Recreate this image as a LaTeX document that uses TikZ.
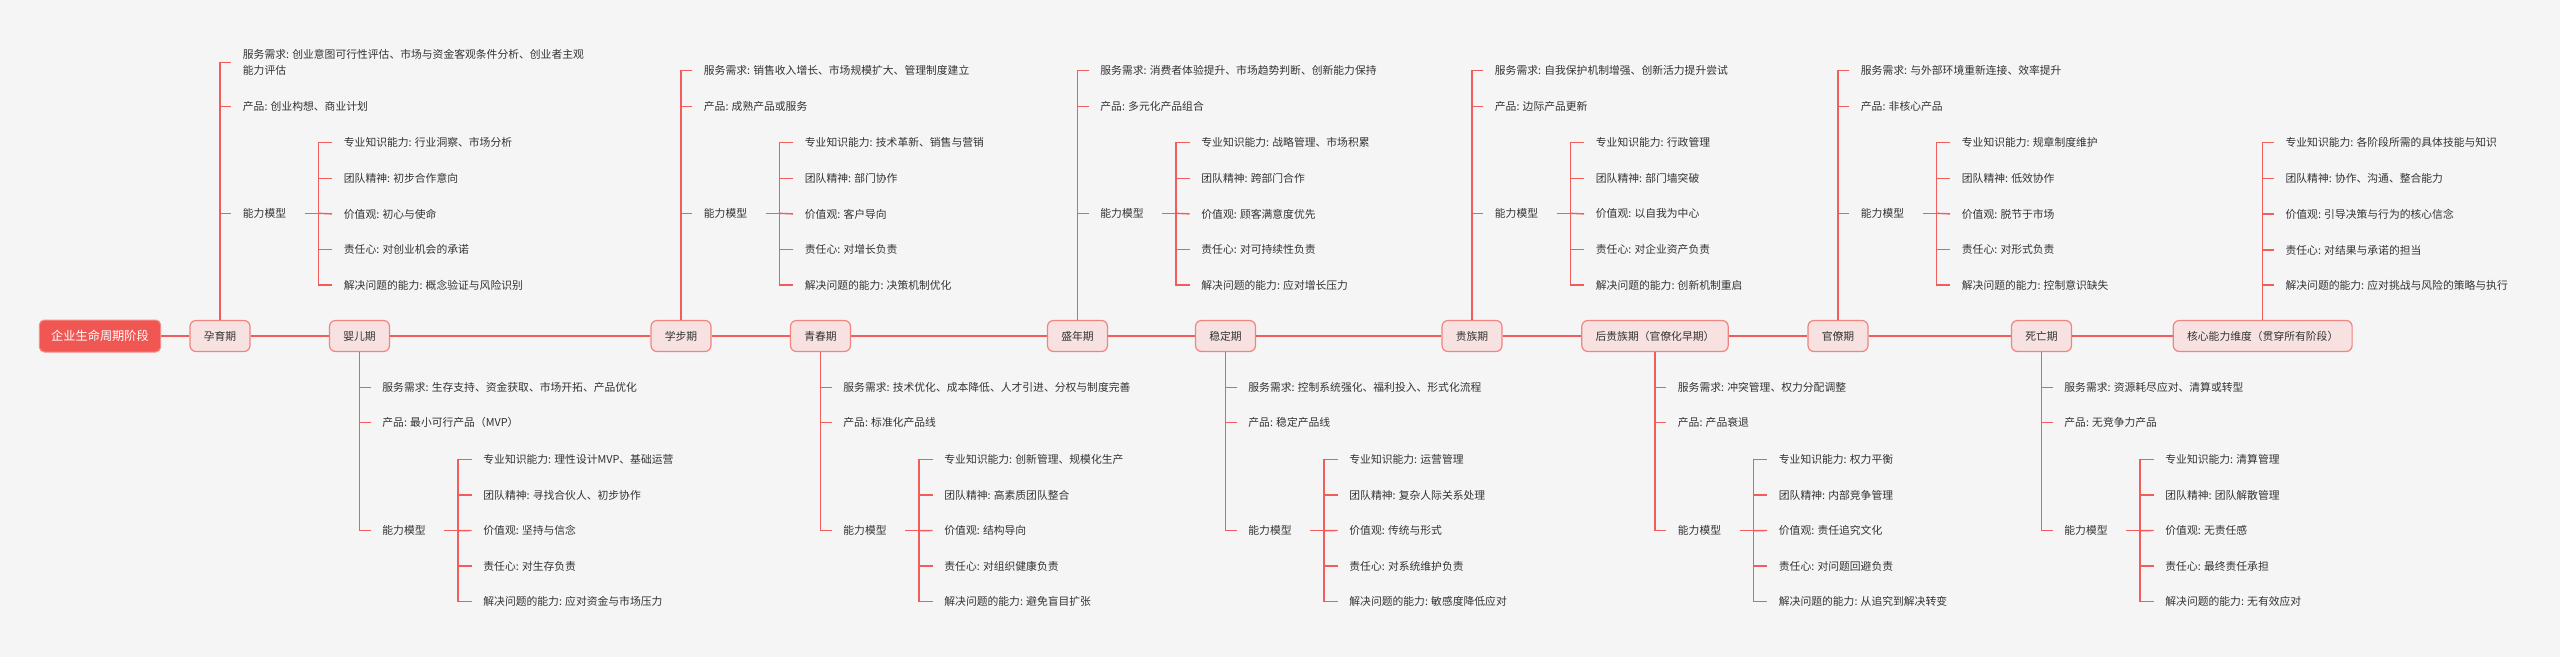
\documentclass[tikz,border=0pt]{standalone}
\usepackage{fontspec}
\setmainfont{Noto Sans CJK SC}
\definecolor{rootred}{HTML}{F05753}
\definecolor{rootedge}{HTML}{F58E8B}
\definecolor{linkred}{HTML}{F25C5A}
\definecolor{stagefill}{HTML}{F7E2E1}
\definecolor{stageborder}{HTML}{F2847F}
\definecolor{txt}{HTML}{333333}
\definecolor{bgc}{HTML}{F5F5F5}
\tikzset{
  link/.style={draw=linkred, line width=1.4pt},
  item/.style={anchor=west, inner xsep=11.7pt, inner ysep=1pt, text=txt, align=left,
    font=\fontsize{10.8}{16}\selectfont},
  rootbox/.style={rounded corners=5pt, fill=rootred, draw=rootedge, line width=1pt, text=white,
    minimum height=32pt, inner xsep=11.9pt, font=\fontsize{12.2}{14}\selectfont},
  stagebox/.style={rounded corners=6pt, fill=stagefill, draw=stageborder, line width=1.2pt,
    minimum height=31pt, inner xsep=13.8pt, text=txt, font=\fontsize{10.8}{13}\selectfont}
}
\newcommand{\branchhead}[6][]{%
  \def\bn{#2}\def\bx{#3}%
  \if#4t\def\yS{70.7}\def\yP{106.7}\def\yA{213.3}\def\yT{142.7}\def\anc{north}%
  \else\def\yS{387.3}\def\yP{422.7}\def\yA{530.7}\def\yT{459.3}\def\anc{south}\fi
  \if\relax\detokenize{#1}\relax\else\def\yS{#1}\fi
  \node[item] (#2-sv) at (\bx+11,\yS) {#5};
  \node[item] (#2-pd) at (\bx+11,\yP) {#6};
  \node[item] (#2-ab) at (\bx+11,\yA) {能力模型};
  \draw[link] (#2.\anc) |- (#2-sv.west);
  \draw[link] (#2.\anc) |- (#2-pd.west);
  \draw[link] (#2.\anc) |- (#2-ab.west);
  \coordinate (#2-h) at (\bx+84.5,\yA);
  \coordinate (#2-j) at (\bx+98.3,\yA);
  \draw[link] (#2-h) -- (#2-j);
}
\newcommand{\branchsubs}[5]{%
  \node[item] (\bn-c1) at (\bx+112,\yT) {#1};
  \node[item] (\bn-c2) at (\bx+112,\yT+35.6) {#2};
  \node[item] (\bn-c3) at (\bx+112,\yT+71.2) {#3};
  \node[item] (\bn-c4) at (\bx+112,\yT+106.8) {#4};
  \node[item] (\bn-c5) at (\bx+112,\yT+142.4) {#5};
  \draw[link] (\bn-j) |- (\bn-c1.west);
  \draw[link] (\bn-j) |- (\bn-c2.west);
  \draw[link] (\bn-j) |- (\bn-c4.west);
  \draw[link] (\bn-j) |- (\bn-c5.west);
  \draw[link] (\bn-j) -- (\bn-c3.west);
}
\begin{document}
\begin{tikzpicture}[x=1pt,y=-1pt]
\useasboundingbox (0,0) rectangle (2560,657);
\fill[bgc] (0,0) rectangle (2560,657);

% stages
\node[rootbox] (root) at (100,336) {企业生命周期阶段};
\node[stagebox] (s1) at (220,336) {孕育期};
\node[stagebox] (s2) at (359.5,336) {婴儿期};
\node[stagebox] (s3) at (681,336) {学步期};
\node[stagebox] (s4) at (820.5,336) {青春期};
\node[stagebox] (s5) at (1077.5,336) {盛年期};
\node[stagebox] (s6) at (1225.5,336) {稳定期};
\node[stagebox] (s7) at (1472,336) {贵族期};
\node[stagebox] (s8) at (1655,336) {后贵族期（官僚化早期）};
\node[stagebox] (s9) at (1838,336) {官僚期};
\node[stagebox] (s10) at (2041.5,336) {死亡期};
\node[stagebox] (s11) at (2262.7,336) {核心能力维度（贯穿所有阶段）};

\draw[link] (root) -- (s1) -- (s2) -- (s3) -- (s4) -- (s5) -- (s6) -- (s7) -- (s8) -- (s9) -- (s10) -- (s11);

% 孕育期
\branchhead[62.7]{s1}{220}{t}{服务需求: 创业意图可行性评估、市场与资金客观条件分析、创业者主观\\能力评估}{产品: 创业构想、商业计划}
\branchsubs{专业知识能力: 行业洞察、市场分析}{团队精神: 初步合作意向}{价值观: 初心与使命}{责任心: 对创业机会的承诺}{解决问题的能力: 概念验证与风险识别}

% 婴儿期
\branchhead{s2}{359.5}{b}{服务需求: 生存支持、资金获取、市场开拓、产品优化}{产品: 最小可行产品（MVP）}
\branchsubs{专业知识能力: 理性设计MVP、基础运营}{团队精神: 寻找合伙人、初步协作}{价值观: 坚持与信念}{责任心: 对生存负责}{解决问题的能力: 应对资金与市场压力}

% 学步期
\branchhead{s3}{681}{t}{服务需求: 销售收入增长、市场规模扩大、管理制度建立}{产品: 成熟产品或服务}
\branchsubs{专业知识能力: 技术革新、销售与营销}{团队精神: 部门协作}{价值观: 客户导向}{责任心: 对增长负责}{解决问题的能力: 决策机制优化}

% 青春期
\branchhead{s4}{820.5}{b}{服务需求: 技术优化、成本降低、人才引进、分权与制度完善}{产品: 标准化产品线}
\branchsubs{专业知识能力: 创新管理、规模化生产}{团队精神: 高素质团队整合}{价值观: 结构导向}{责任心: 对组织健康负责}{解决问题的能力: 避免盲目扩张}

% 盛年期
\branchhead{s5}{1077.5}{t}{服务需求: 消费者体验提升、市场趋势判断、创新能力保持}{产品: 多元化产品组合}
\branchsubs{专业知识能力: 战略管理、市场积累}{团队精神: 跨部门合作}{价值观: 顾客满意度优先}{责任心: 对可持续性负责}{解决问题的能力: 应对增长压力}

% 稳定期
\branchhead{s6}{1225.5}{b}{服务需求: 控制系统强化、福利投入、形式化流程}{产品: 稳定产品线}
\branchsubs{专业知识能力: 运营管理}{团队精神: 复杂人际关系处理}{价值观: 传统与形式}{责任心: 对系统维护负责}{解决问题的能力: 敏感度降低应对}

% 贵族期
\branchhead{s7}{1472}{t}{服务需求: 自我保护机制增强、创新活力提升尝试}{产品: 边际产品更新}
\branchsubs{专业知识能力: 行政管理}{团队精神: 部门墙突破}{价值观: 以自我为中心}{责任心: 对企业资产负责}{解决问题的能力: 创新机制重启}

% 后贵族期
\branchhead{s8}{1655}{b}{服务需求: 冲突管理、权力分配调整}{产品: 产品衰退}
\branchsubs{专业知识能力: 权力平衡}{团队精神: 内部竞争管理}{价值观: 责任追究文化}{责任心: 对问题回避负责}{解决问题的能力: 从追究到解决转变}

% 官僚期
\branchhead{s9}{1838}{t}{服务需求: 与外部环境重新连接、效率提升}{产品: 非核心产品}
\branchsubs{专业知识能力: 规章制度维护}{团队精神: 低效协作}{价值观: 脱节于市场}{责任心: 对形式负责}{解决问题的能力: 控制意识缺失}

% 死亡期
\branchhead{s10}{2041.5}{b}{服务需求: 资源耗尽应对、清算或转型}{产品: 无竞争力产品}
\branchsubs{专业知识能力: 清算管理}{团队精神: 团队解散管理}{价值观: 无责任感}{责任心: 最终责任承担}{解决问题的能力: 无有效应对}

% 核心能力维度
\node[item] (k1) at (2273.7,142.3) {专业知识能力: 各阶段所需的具体技能与知识};
\node[item] (k2) at (2273.7,178.3) {团队精神: 协作、沟通、整合能力};
\node[item] (k3) at (2273.7,214) {价值观: 引导决策与行为的核心信念};
\node[item] (k4) at (2273.7,250) {责任心: 对结果与承诺的担当};
\node[item] (k5) at (2273.7,285) {解决问题的能力: 应对挑战与风险的策略与执行};
\foreach \k in {k1,k2,k3,k4,k5} { \draw[link] (s11.north) |- (\k.west); }
\end{tikzpicture}
\end{document}
